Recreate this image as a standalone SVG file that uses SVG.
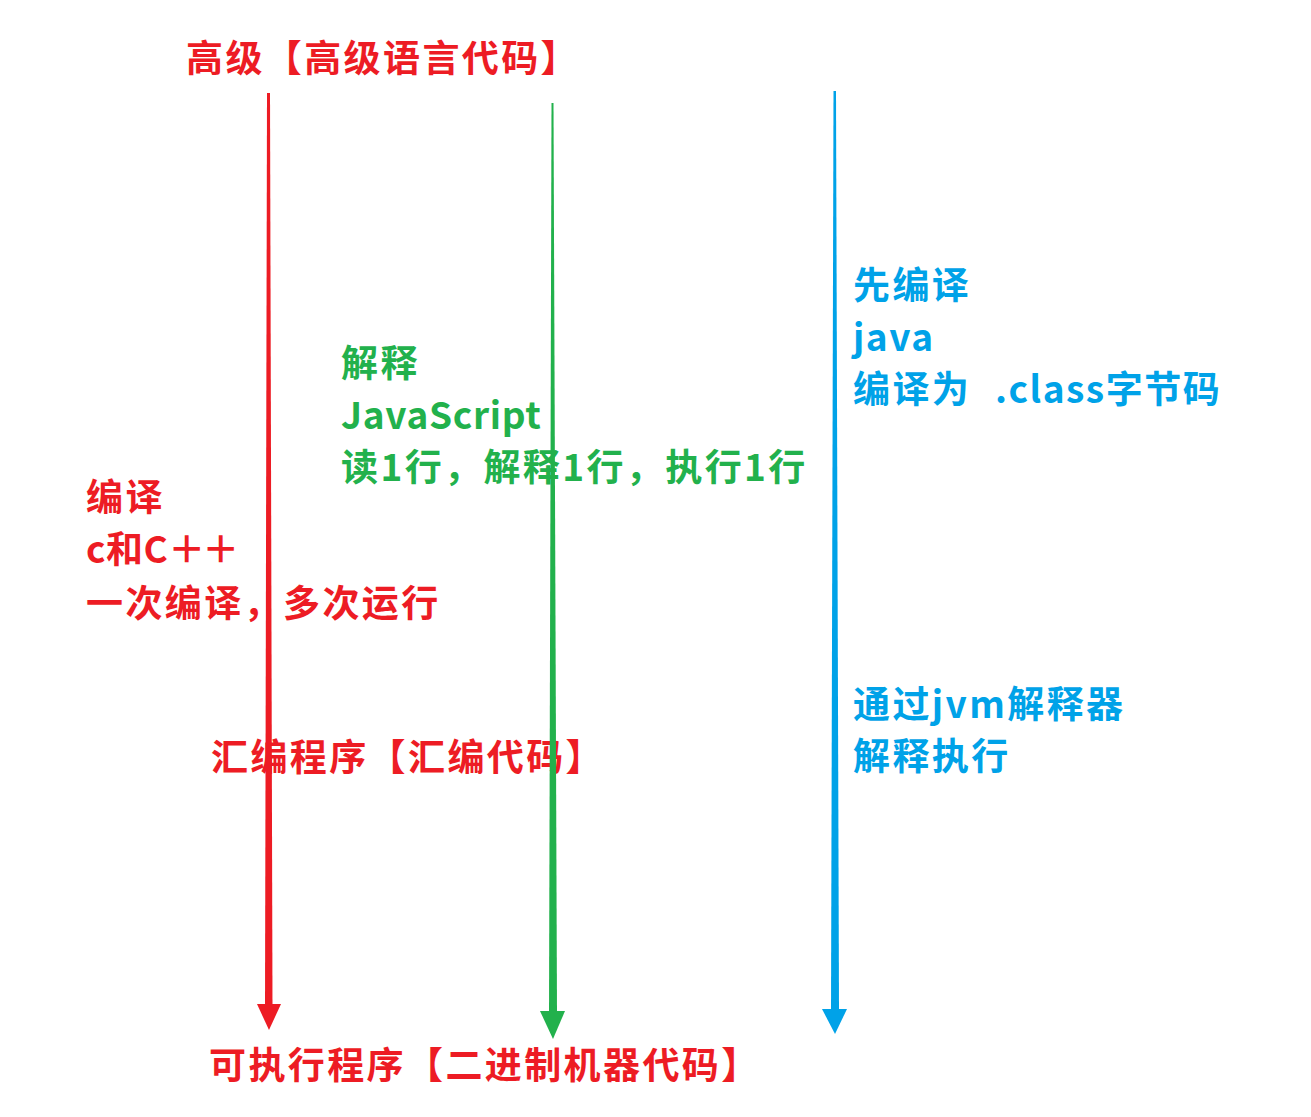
<svg xmlns="http://www.w3.org/2000/svg" width="1311" height="1117" viewBox="0 0 1311 1117">
<style>
text{font-family:"Noto Sans CJK SC","Microsoft YaHei",sans-serif;font-weight:bold;font-size:37px;letter-spacing:2.4px}
.r{fill:#ED1C24}.g{fill:#22B14C}.b{fill:#00A2E8}
.lat{letter-spacing:0.7px}
</style>
<rect width="1311" height="1117" fill="#fff"/>
<g id="top-label"><text class="r" x="186" y="72">高级【高级语言代码】</text></g>
<g id="compile-note"><text class="r" x="86" y="511">编译</text><text class="r" x="86" y="563" style="letter-spacing:0.5px">c和C<tspan style="letter-spacing:-3px">＋＋</tspan></text><text class="r" x="86" y="617">一次编译，多次运行</text></g>
<g id="interpret-note"><text class="g" x="341" y="377">解释</text><text class="g lat" x="341" y="429">JavaScript</text><text class="g" x="341" y="481">读1行，解释1行，执行1行</text></g>
<g id="java-note"><text class="b" x="853" y="299">先编译</text><text class="b" x="853" y="351" style="letter-spacing:1.5px">java</text><text class="b" x="853" y="403">编译为<tspan x="995" style="letter-spacing:1.5px">.class字节码</tspan></text></g>
<g id="jvm-note"><text class="b" x="853" y="718">通过jvm解释器</text><text class="b" x="853" y="770">解释执行</text></g>
<g id="asm-label"><text class="r" x="211" y="771">汇编程序【汇编代码】</text></g>
<g id="bottom-label"><text class="r" x="209" y="1079">可执行程序【二进制机器代码】</text></g>
<g id="connectors">
<polygon class="r" points="267,93 270,93 272.5,1005 265,1005"/>
<polygon class="r" points="257,1004 281,1004 269,1030"/>
<polygon class="g" points="551.5,103 553.5,103 557,1013 549,1013"/>
<polygon class="g" points="540,1011 565,1011 553,1039"/>
<polygon class="b" points="833.5,91 836,91 839,1010 831,1010"/>
<polygon class="b" points="822,1009 847,1009 835,1034"/>
</g>
</svg>
